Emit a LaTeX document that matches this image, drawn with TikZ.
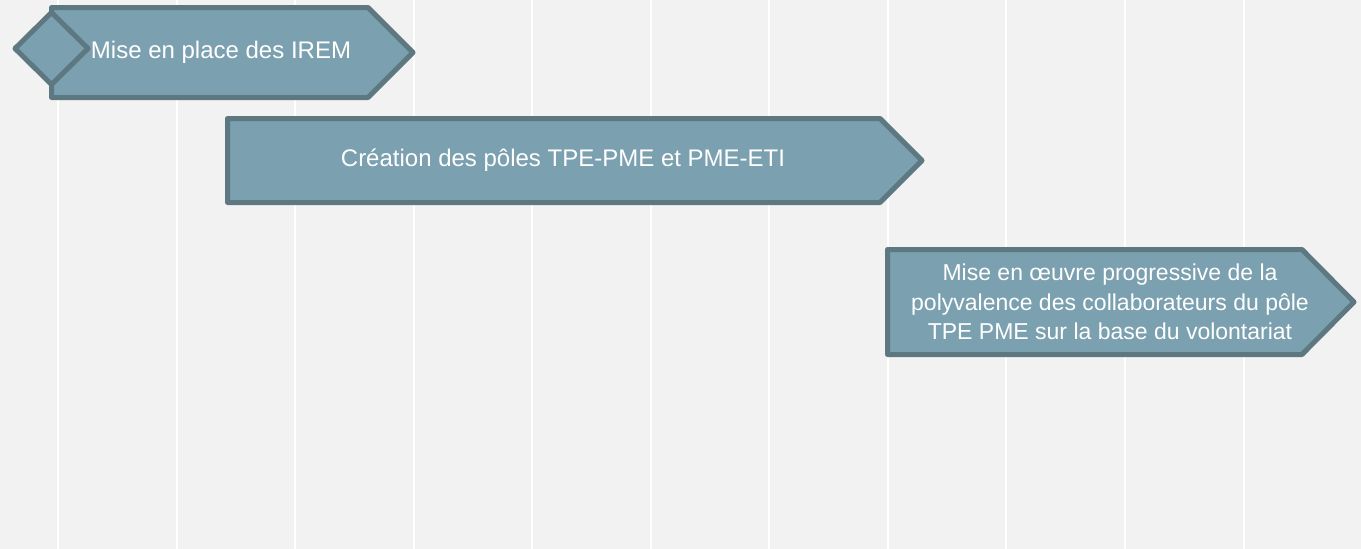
\documentclass[tikz,border=0pt]{standalone}
\usepackage{fontspec}
\setmainfont{Liberation Sans}
\definecolor{bg}{HTML}{F2F2F2}
\definecolor{boxfill}{HTML}{7BA0AF}
\definecolor{boxline}{HTML}{5E7882}
\begin{document}
\begin{tikzpicture}[x=1pt,y=-1pt,
  bar/.style={fill=boxfill,draw=boxline,line width=5pt,line join=round},
  lbl/.style={text=white,font=\fontsize{24}{30}\selectfont,align=center,inner sep=0pt},
  lblsmall/.style={text=white,font=\fontsize{23}{29.5}\selectfont,align=center,inner sep=0pt},
  grid/.style={white,line width=2pt}]
\fill[bg] (0,0) rectangle (1361,549);
\useasboundingbox (0,0) rectangle (1361,549);
\foreach \i in {0,...,10} \draw[grid] ({58+118.55*\i},0) -- ({58+118.55*\i},549);
% bar 1
\draw[bar] (51.5,7.5) -- (368,7.5) -- (413,52.5) -- (368,97.5) -- (51.5,97.5) -- cycle;
\draw[bar] (15,48.5) -- (51.5,12.5) -- (88,48.5) -- (51.5,84.5) -- cycle;
\node[lbl] (t1) at (221,52) {Mise en place des IREM};
% bar 2
\draw[bar] (227.5,118.5) -- (880,118.5) -- (922,160.5) -- (880,202.5) -- (227.5,202.5) -- cycle;
\node[lbl] (t2) at (563,160) {Création des pôles TPE-PME et PME-ETI};
% bar 3
\draw[bar] (887.5,249.5) -- (1302,249.5) -- (1354,302) -- (1302,354.5) -- (887.5,354.5) -- cycle;
\node[lblsmall] (t3) at (1110,302) {Mise en œuvre progressive de la\\polyvalence des collaborateurs du pôle\\TPE PME sur la base du volontariat};
\end{tikzpicture}
\end{document}
